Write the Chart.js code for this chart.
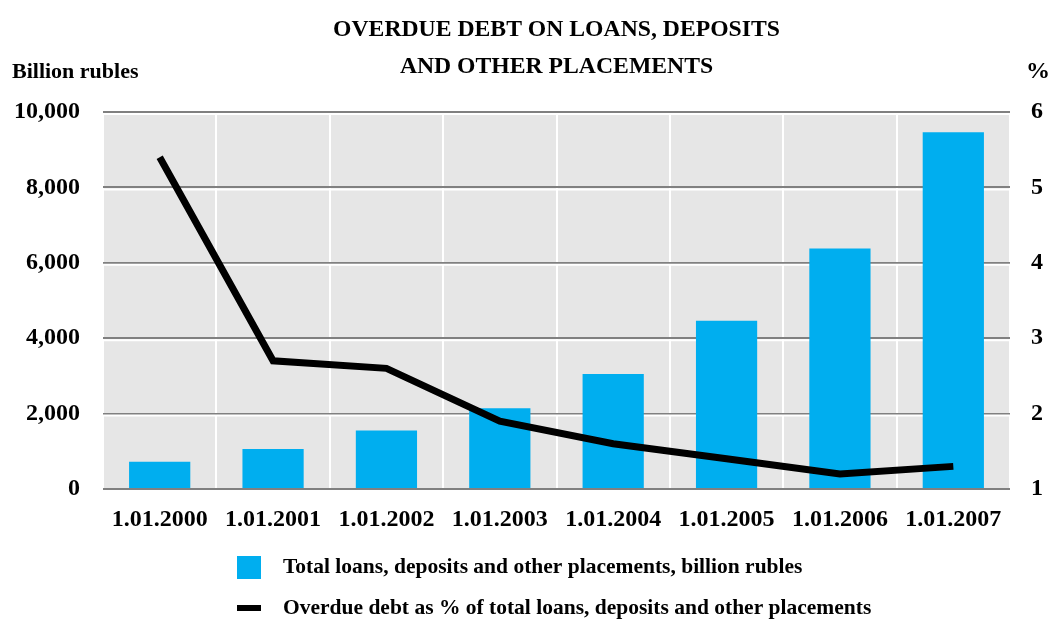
<!DOCTYPE html>
<html>
<head>
<meta charset="utf-8">
<script src="https://cdn.jsdelivr.net/npm/chart.js@4"></script>
<style>
	html, body { margin: 0; padding: 0; background: #fff; }
	#wrap { width: 1048px; height: 621px; }
</style>
</head>
<body>
<div id="wrap"><canvas id="chart" width="1048" height="621"></canvas></div>
<script>

const categories = ['1.01.2000', '1.01.2001', '1.01.2002', '1.01.2003', '1.01.2004', '1.01.2005', '1.01.2006', '1.01.2007'];
const totalLoans = [720, 1060, 1550, 2140, 3050, 4460, 6380, 9460];
const overduePct = [5.4, 2.7, 2.6, 1.9, 1.6, 1.4, 1.2, 1.3];
const titleLines = ['OVERDUE DEBT ON LOANS, DEPOSITS', 'AND OTHER PLACEMENTS'];
const leftUnit = 'Billion rubles';
const rightUnit = '%';

const FONT = '"Liberation Serif", "Times New Roman", serif';
const BLUE = '#00aeef';


// grey plot background and the white line under each grey gridline
const plotBackground = {
	id: 'plotBackground',
	beforeDraw(chart)
	{
		const { ctx, chartArea: a } = chart;
		ctx.save();
		ctx.fillStyle = '#e6e6e6';
		ctx.fillRect(a.left, a.top, a.right - a.left, a.bottom - a.top);
		ctx.restore();
	},
	beforeDatasetsDraw(chart)
	{
		const { ctx, chartArea: a } = chart;
		const y = chart.scales.y;
		ctx.save();
		ctx.strokeStyle = '#ffffff';
		ctx.lineWidth = 2;
		y.ticks.forEach((t, i) => {
			const py = y.getPixelForTick(i) + 2;
			if (py > a.bottom) return;
			ctx.beginPath();
			ctx.moveTo(a.left, py);
			ctx.lineTo(a.right, py);
			ctx.stroke();
		});
		ctx.restore();
	}
};


// unit labels and the legend under the chart
const extras = {
	id: 'extras',
	afterDraw(chart)
	{
		const { ctx, chartArea: a } = chart;
		ctx.save();
		ctx.fillStyle = '#000';
		ctx.textBaseline = 'middle';
		ctx.font = 'bold 22px ' + FONT;
		ctx.textAlign = 'left';
		ctx.fillText(leftUnit, 12, 72);
		ctx.textAlign = 'center';
		ctx.font = 'bold 24px ' + FONT;
		ctx.fillText(rightUnit, 1038, 72);

		ctx.font = 'bold 21.5px ' + FONT;
		ctx.textAlign = 'left';
		chart.data.datasets.forEach((ds, i) => {
			const cy = a.bottom + 78 + i * 41;
			if (ds.type === 'line') {
				ctx.fillStyle = ds.borderColor;
				ctx.fillRect(237, cy - 3, 24, 6);
			} else {
				ctx.fillStyle = ds.backgroundColor;
				ctx.fillRect(237, cy - 11, 24, 23);
			}
			ctx.fillStyle = '#000';
			ctx.fillText(ds.label, 283, cy);
		});
		ctx.restore();
	}
};


new Chart(document.getElementById('chart'), {
	data: {
		labels: categories,
		datasets: [
			{
				type: 'bar',
				label: 'Total loans, deposits and other placements, billion rubles',
				data: totalLoans,
				yAxisID: 'y',
				backgroundColor: BLUE,
				barPercentage: 0.54,
				categoryPercentage: 1,
				order: 1,
			},
			{
				type: 'line',
				label: 'Overdue debt as % of total loans, deposits and other placements',
				data: overduePct,
				yAxisID: 'y1',
				borderColor: '#000000',
				borderWidth: 7,
				borderCapStyle: 'butt',
				borderJoinStyle: 'miter',
				pointRadius: 0,
				tension: 0,
				order: 0,
			}
		]
	},
	options: {
		responsive: false,
		animation: false,
		layout: { padding: 0 },
		plugins: {
			legend: { display: false },
			tooltip: { enabled: false },
			title: {
				display: true,
				text: titleLines,
				fullSize: false,
				color: '#000',
				font: { family: FONT, size: 23.7, weight: 'bold', lineHeight: '37px' },
				padding: { top: 11, bottom: 27 },
			},
		},
		scales: {
			x: {
				grid: { color: '#ffffff', lineWidth: 2, offset: true, drawTicks: false },
				border: { display: false },
				ticks: {
					color: '#000',
					font: { family: FONT, size: 24, weight: 'bold' },
					padding: 16,
					maxRotation: 0,
				},
				afterFit(scale) { scale.height = 132; },
			},
			y: {
				position: 'left',
				min: 0,
				max: 10000,
				grid: { color: '#808080', lineWidth: 2, drawTicks: false },
				border: { display: false },
				ticks: {
					stepSize: 2000,
					color: '#000',
					font: { family: FONT, size: 24, weight: 'bold' },
					padding: 23,
					callback: v => v.toLocaleString('en-US'),
				},
				afterFit(scale) { scale.width = 103; },
			},
			y1: {
				position: 'right',
				min: 1,
				max: 6,
				grid: { display: false, drawTicks: false },
				border: { display: false },
				ticks: {
					stepSize: 1,
					color: '#000',
					font: { family: FONT, size: 24, weight: 'bold' },
					padding: 21,
				},
				afterFit(scale) { scale.width = 38; },
			},
		},
	},
	plugins: [plotBackground, extras],
});

</script>
</body>
</html>
